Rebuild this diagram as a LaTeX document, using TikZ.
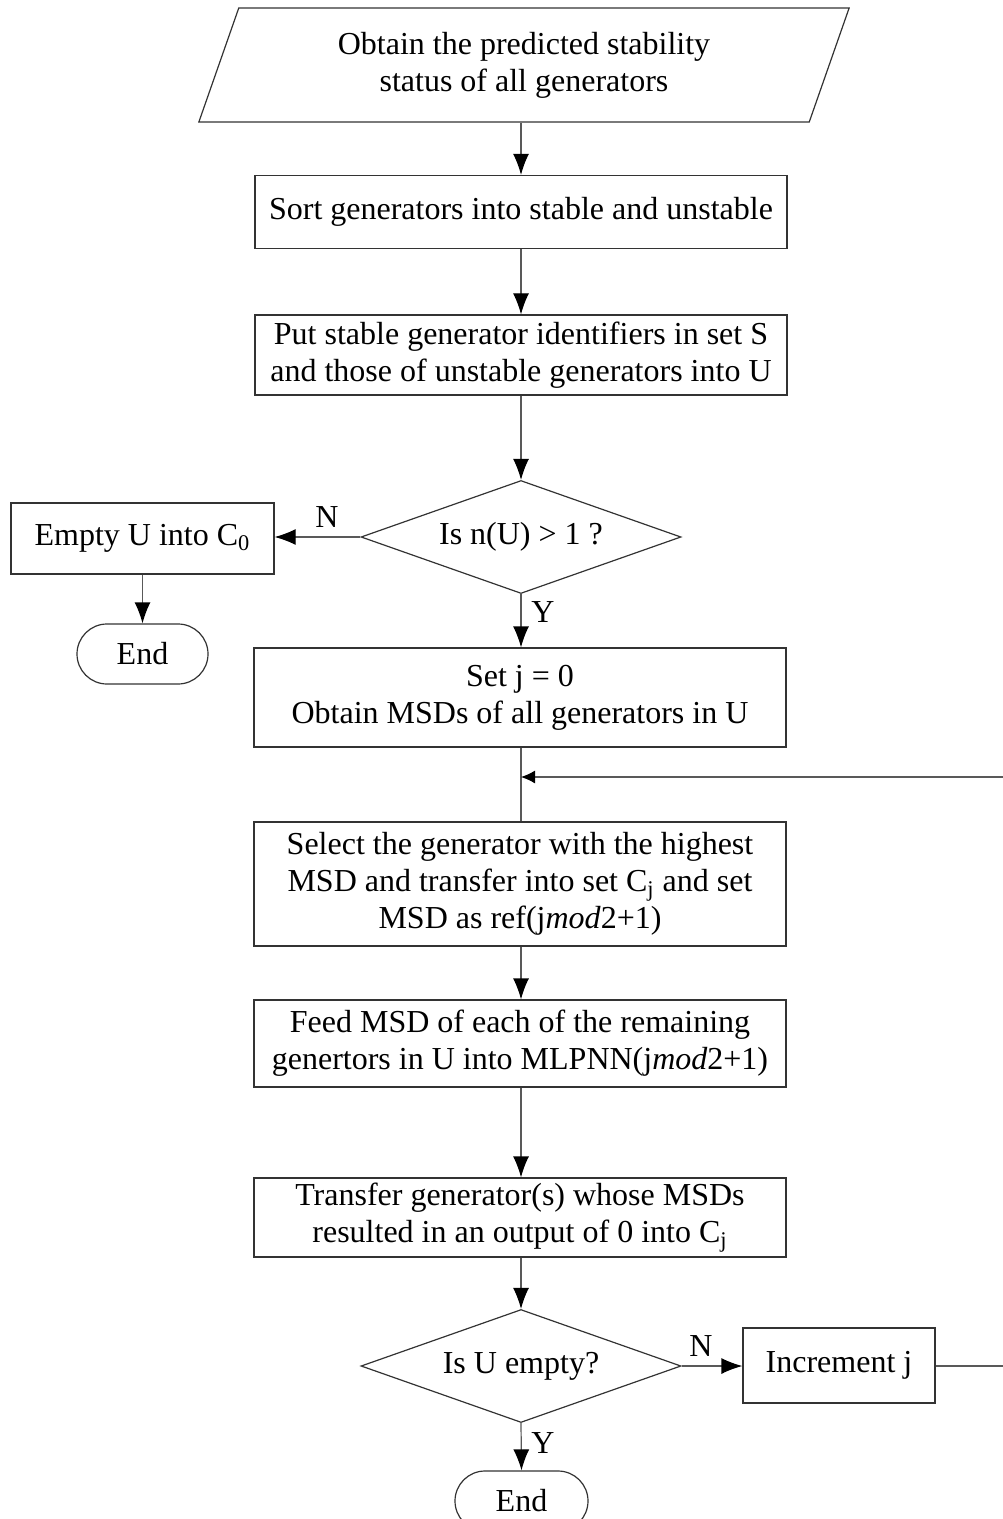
\documentclass[tikz,border=0pt]{standalone}
\usepackage{fontspec}
\setmainfont{Liberation Serif}
\usetikzlibrary{shapes.geometric,shapes.misc,arrows.meta}
\begin{document}
\begin{tikzpicture}[x=0.5pt,y=-0.5pt,
  every node/.style={font=\fontsize{16}{18.5}\selectfont, text=black},
  procbox/.style={draw=black!80, line width=0.6pt, rectangle, align=center, inner sep=0pt},
  mainbox/.style={procbox, minimum width=266pt},
  iobox/.style={draw=black!80, line width=0.6pt, trapezium, trapezium left angle=68.5,
    trapezium right angle=111.5, trapezium stretches=true, align=center, inner sep=0pt,
    minimum width=326pt, minimum height=57pt},
  decision/.style={draw=black!80, line width=0.6pt, diamond, aspect=2.8, inner sep=0pt,
    minimum width=160pt, minimum height=56.5pt},
  terminal/.style={draw=black!80, line width=0.6pt, rounded rectangle, inner sep=0pt,
    minimum width=65.5pt, minimum height=30pt},
  conn/.style={draw=black!65, line width=0.6pt, -{Latex[length=10.5pt,width=8pt,color=black]}},
  plainconn/.style={draw=black!65, line width=0.6pt},
  loopconn/.style={draw=black!65, line width=0.6pt, -{Latex[length=7pt,width=6.5pt,color=black]}},
  lbl/.style={inner sep=0pt}
]
\useasboundingbox (0,0) rectangle (1002,1519);

% main column
\node[iobox] (in) at (524,65) {Obtain the predicted stability\\status of all generators};
\node[mainbox, minimum height=36.5pt] (sort) at (521,212) {Sort generators into stable and unstable};
\node[mainbox, minimum height=40pt] (put) at (521,355) {Put stable generator identifiers in set S\\and those of unstable generators into U};
\node[decision] (d1) at (521,537) {Is n(U) > 1 ?};
\node[procbox, minimum width=131.5pt, minimum height=35.5pt] (empty) at (142.5,538.5) {Empty U into C\textsubscript{0}};
\node[terminal] (end1) at (142.5,654) {End};
\node[mainbox, minimum height=49.5pt] (setj) at (520,697.5) {Set j = 0\\Obtain MSDs of all generators in U};
\node[mainbox, minimum height=62pt] (select) at (520,884) {Select the generator with the highest\\MSD and transfer into set C\textsubscript{j} and set\\MSD as ref(j\textit{mod}2+1)};
\node[mainbox, minimum height=43.5pt] (feed) at (520,1043.5) {Feed MSD of each of the remaining\\genertors in U into MLPNN(j\textit{mod}2+1)};
\node[mainbox, minimum height=39.5pt] (transfer) at (520,1217.5) {Transfer generator(s) whose MSDs\\resulted in an output of 0 into C\textsubscript{j}};
\node[decision] (d2) at (521,1366) {Is U empty?};
\node[procbox, minimum width=96pt, minimum height=37.5pt] (inc) at (839,1365.5) {Increment j};
\node[terminal, minimum width=66.5pt] (end2) at (521.5,1501) {End};

% branch labels
\node[lbl] (n1) at (327,517) {N};
\node[lbl] (y1) at (543,612) {Y};
\node[lbl] (n2) at (701,1346) {N};
\node[lbl] (y2) at (543,1443) {Y};

% loop-back route
\coordinate (loopR) at (1004,1366);
\coordinate (loopT) at (1004,777);
\coordinate (join) at (521,777);

% connectors
\draw[conn] (in.south -| sort.north) -- (sort.north);
\draw[conn] (sort.south) -- (put.north);
\draw[conn] (put.south) -- (d1.north);
\draw[conn] (d1.west) -- (d1.west -| empty.east);
\draw[conn] (empty.south) -- (end1.north);
\draw[conn] (d1.south) -- (d1.south |- setj.north);
\draw[plainconn] (setj.south -| d1.south) -- (select.north -| d1.south);
\draw[conn] (select.south -| d1.south) -- (feed.north -| d1.south);
\draw[conn] (feed.south -| d1.south) -- (transfer.north -| d1.south);
\draw[conn] (transfer.south -| d1.south) -- (d2.north);
\draw[conn] (d2.east) -- (d2.east -| inc.west);
\draw[conn] (d2.south) -- (end2.north);
\draw[plainconn] (d2.east -| inc.east) -- (loopR) -- (loopT);
\draw[loopconn] (loopT) -- (join);
\end{tikzpicture}
\end{document}
